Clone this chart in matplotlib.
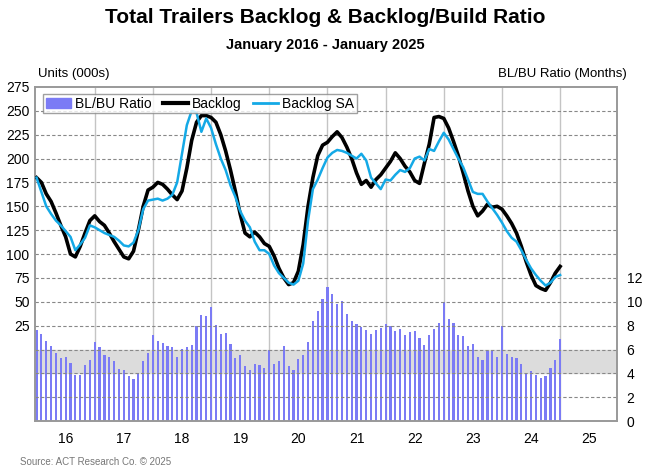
import matplotlib
matplotlib.use("Agg")
import matplotlib.pyplot as plt
import numpy as np
from matplotlib.patches import Patch
from matplotlib.lines import Line2D

plt.rcParams["font.family"] = "Liberation Sans"

years = ["16", "17", "18", "19", "20", "21", "22", "23", "24", "25"]

ratio = [7.6, 7.3, 6.7, 6.3, 5.7, 5.3, 5.4, 4.9, 3.9, 3.9, 4.7, 5.1,
         6.6, 6.25, 5.5, 5.4, 5.0, 4.4, 4.25, 3.8, 3.5, 4.05, 5.0, 5.7,
         7.25, 6.75, 6.55, 6.3, 6.25, 5.4, 6.05, 6.2, 6.4, 8.0, 8.9, 8.8,
         9.6, 8.05, 7.3, 7.35, 6.5, 5.3, 5.5, 4.6, 4.25, 4.75, 4.7, 4.45,
         6.0, 4.75, 5.05, 6.3, 4.6, 4.3, 5.2, 5.5, 6.65, 8.4, 9.25, 10.2,
         11.25, 10.65, 9.8, 10.1, 8.95, 8.35, 8.1, 7.85, 7.6, 7.3, 7.6, 7.8,
         8.15, 7.95, 7.55, 7.7, 7.2, 7.45, 7.55, 6.95, 6.35, 7.25, 7.7, 8.2,
         10.0, 8.55, 8.2, 7.2, 7.15, 6.3, 6.5, 5.35, 5.15, 5.85, 5.9, 5.4,
         8.0, 5.65, 5.35, 5.3, 4.8, 4.0, 4.2, 3.85, 3.65, 3.8, 4.45, 5.15,
         6.85]

backlog = [180, 175, 163, 155, 143, 130, 118, 100, 97, 108, 122, 135,
           140, 134, 130, 122, 113, 105, 97, 95, 103, 125, 150, 167,
           170, 175, 173, 168, 162, 157, 166, 190, 219, 238, 245, 245,
           243, 238, 225, 208, 188, 166, 142, 122, 118, 123, 118, 111,
           108, 98, 85, 75, 68, 70, 82, 110, 150, 180, 203, 214,
           217, 223, 228, 222, 212, 200, 185, 173, 177, 170, 178, 183,
           190, 197, 206, 200, 192, 186, 177, 174, 195, 215, 243, 244,
           242, 232, 218, 203, 185, 166, 150, 140, 145, 152, 149, 150,
           147, 140, 132, 122, 108, 92, 78, 67, 64, 62, 70, 80,
           87]

backlog_sa = [180, 165, 150, 142, 135, 130, 124, 118, 104, 110, 117, 130,
              128, 125, 122, 120, 118, 114, 109, 108, 112, 125, 147, 156,
              157, 158, 156, 158, 162, 175, 205, 235, 250, 248, 228, 242,
              232, 215, 200, 188, 172, 160, 145, 135, 128, 113, 104, 104,
              100, 88, 80, 75, 70, 68, 72, 90, 135, 168, 178, 190,
              201, 206, 209, 208, 206, 203, 200, 205, 198, 180, 174, 168,
              178, 177, 183, 188, 186, 190, 200, 202, 198, 210, 208, 218,
              227, 220, 210, 200, 191, 178, 165, 163, 163, 155, 148, 141,
              133, 124, 117, 113, 104, 94, 85, 78, 72, 67, 70, 76,
              78]

bar_c = "#7b7bf5"
sa_c = "#14a9e6"

fig = plt.figure(figsize=(6.5, 4.7), dpi=100)
axr = fig.add_axes([0.054, 0.104, 0.895, 0.711])
axl = axr.twinx()
axl.yaxis.tick_left()
axl.yaxis.set_label_position("left")
axr.yaxis.tick_right()
axl.set_zorder(axr.get_zorder() + 1)
axl.patch.set_visible(False)

x = np.arange(len(ratio))
axr.set_ylim(0, 28)
axl.set_ylim(-75, 275)
axr.set_xlim(-0.3, 119.7)

axr.axhspan(4, 6, color="#dcdcdc", zorder=0)
for yv in range(-50, 275, 25):
    axl.axhline(yv, color="#888888", ls=(0, (3, 2)), lw=0.8, zorder=0)
for k in range(1, 10):
    axr.axvline(12 * k, color="#c4c4c4", lw=1, zorder=0.5)
axr.bar(x, ratio, width=0.45, color=bar_c, zorder=2)

axl.plot(x, backlog, color="black", lw=2.6, zorder=3)
axl.plot(x, backlog_sa, color=sa_c, lw=1.8, zorder=4)

axr.set_yticks(range(0, 13, 2))
axl.set_yticks(range(25, 276, 25))
axr.set_xticks([])
axr.set_xticks([12 * k + 6 for k in range(10)], minor=True)
axr.set_xticklabels(years, minor=True)
axr.tick_params(axis="x", which="minor", length=0, labelsize=10, pad=8)
axr.tick_params(axis="y", length=0, labelsize=10, pad=7)
axl.tick_params(axis="y", length=0, labelsize=10, pad=4)

for a in (axr, axl):
    for s in a.spines.values():
        s.set_color("#999999")
        s.set_linewidth(1.2)

handles = [Patch(color=bar_c), Line2D([], [], color="black", lw=3),
           Line2D([], [], color=sa_c, lw=2)]
leg = axl.legend(handles, ["BL/BU Ratio", "Backlog", "Backlog SA"], ncol=3,
                 loc="upper left", bbox_to_anchor=(0.002, 1.0), fontsize=10,
                 frameon=True, fancybox=False, edgecolor="#888888",
                 borderpad=0.2, handlelength=1.8, handletextpad=0.3,
                 columnspacing=0.8)
leg.get_frame().set_linewidth(1)

fig.text(0.5, 0.962, "Total Trailers Backlog & Backlog/Build Ratio",
         ha="center", va="center", fontsize=15, fontweight="bold")
fig.text(0.5, 0.904, "January 2016 - January 2025", ha="center",
         va="center", fontsize=10.5, fontweight="bold")
fig.text(0.058, 0.843, "Units (000s)", ha="left", va="center", fontsize=9.5)
fig.text(0.965, 0.843, "BL/BU Ratio (Months)", ha="right", va="center",
         fontsize=9.5)
fig.text(0.03, 0.017, "Source: ACT Research Co. © 2025", ha="left",
         va="center", fontsize=7, color="#777777")

fig.savefig("out.png", dpi=100)
